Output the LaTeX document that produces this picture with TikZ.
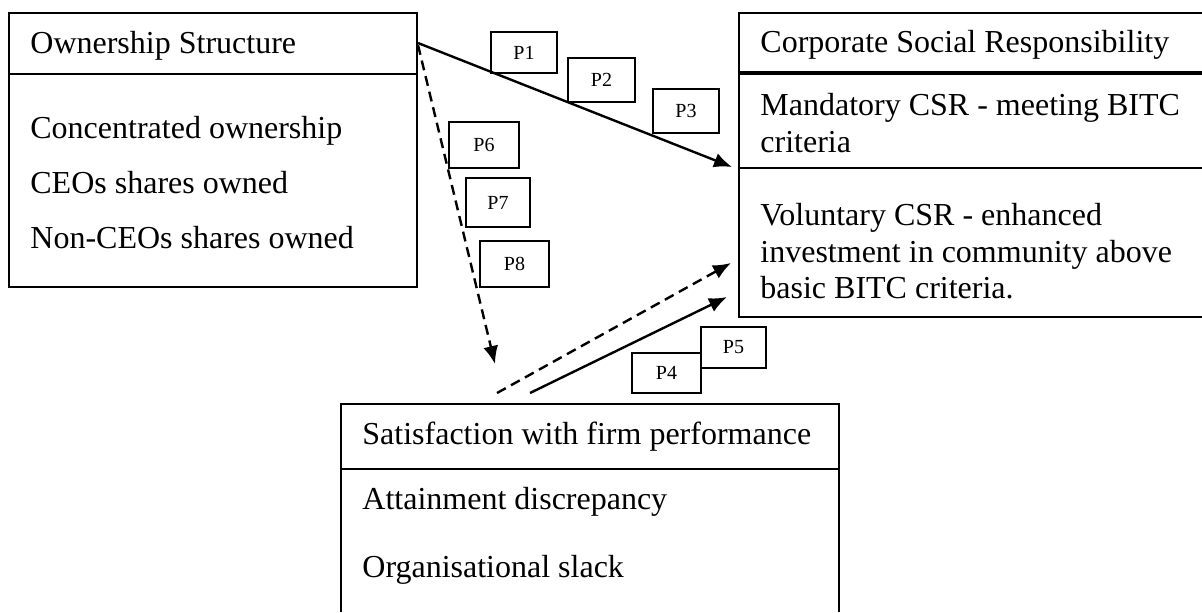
\documentclass[tikz,border=0pt]{standalone}
\usepackage{fontspec}
\setmainfont{Liberation Serif}
\usetikzlibrary{arrows.meta}
\tikzset{>={Latex[length=9pt,width=7.5pt]}}
\tikzset{
  boxtext/.style={anchor=base west, inner sep=0pt, font=\fontsize{16}{19}\selectfont},
  pbox/.style={draw, line width=0.8pt, inner sep=0pt, font=\fontsize{10}{12}\selectfont},
  frame/.style={line width=1.1pt},
  link/.style={->, line width=1.2pt},
  dlink/.style={->, line width=1.2pt, dash pattern=on 5pt off 3pt}
}

\begin{document}
\begin{tikzpicture}[x=0.5pt, y=-0.5pt]
\useasboundingbox (0,0) rectangle (1202,612);
% ownership structure
\draw[frame] (9,13) rectangle (417,287);
\draw[frame] (9,74) -- (417,74);
\node[boxtext] (own) at (30,53) {Ownership Structure};
\node[boxtext] (own1) at (30,138) {Concentrated ownership};
\node[boxtext] (own2) at (30,193) {CEOs shares owned};
\node[boxtext] (own3) at (30,248) {Non-CEOs shares owned};
% corporate social responsibility
\draw[frame] (1202,13) -| (739,317) -- (1202,317);
\draw[line width=1.6pt] (739,73) -- (1202,73);
\draw[frame] (739,168) -- (1202,168);
\node[boxtext] (csr) at (760,52) {Corporate Social Responsibility};
\node[boxtext] (csr1) at (760,115) {Mandatory CSR - meeting BITC};
\node[boxtext] (csr2) at (760,152) {criteria};
\node[boxtext] (csr3) at (760,225) {Voluntary CSR - enhanced};
\node[boxtext] (csr4) at (760,262) {investment in community above};
\node[boxtext] (csr5) at (760,298) {basic BITC criteria.};
% satisfaction with firm performance
\draw[frame] (341,612) |- (839,404) -- (839,612);
\draw[frame] (341,469) -- (839,469);
\node[boxtext] (sat) at (362,444) {Satisfaction with firm performance};
\node[boxtext] (sat1) at (362,509) {Attainment discrepancy};
\node[boxtext] (sat2) at (362,577) {Organisational slack};
% arrow ends
\coordinate (osA) at (418,43);
\coordinate (osB) at (418,45);
\coordinate (csrA) at (732,167);
\coordinate (csrB) at (731,263);
\coordinate (csrC) at (727,297);
\coordinate (sfA) at (495,364);
\coordinate (sfB) at (497,393);
\coordinate (sfC) at (530,393);
\draw[link] (osA) -- (csrA);
\draw[dlink] (osB) -- (sfA);
\draw[dlink] (sfB) -- (csrB);
\draw[link] (sfC) -- (csrC);
% propositions
\node[pbox, minimum width=33pt, minimum height=20.5pt] (p1) at (524,52.5) {P1};
\node[pbox, minimum width=33.5pt, minimum height=22pt] (p2) at (601.5,80) {P2};
\node[pbox, minimum width=33pt, minimum height=22pt] (p3) at (686,111) {P3};
\node[pbox, minimum width=34.5pt, minimum height=20pt] (p4) at (666.5,373) {P4};
\node[pbox, minimum width=32.5pt, minimum height=20.5pt] (p5) at (733.5,347.5) {P5};
\node[pbox, minimum width=35pt, minimum height=23pt] (p6) at (484,145) {P6};
\node[pbox, minimum width=32pt, minimum height=24.5pt] (p7) at (498,202.5) {P7};
\node[pbox, minimum width=34.5pt, minimum height=23pt] (p8) at (514.5,264) {P8};
\end{tikzpicture}
\end{document}
